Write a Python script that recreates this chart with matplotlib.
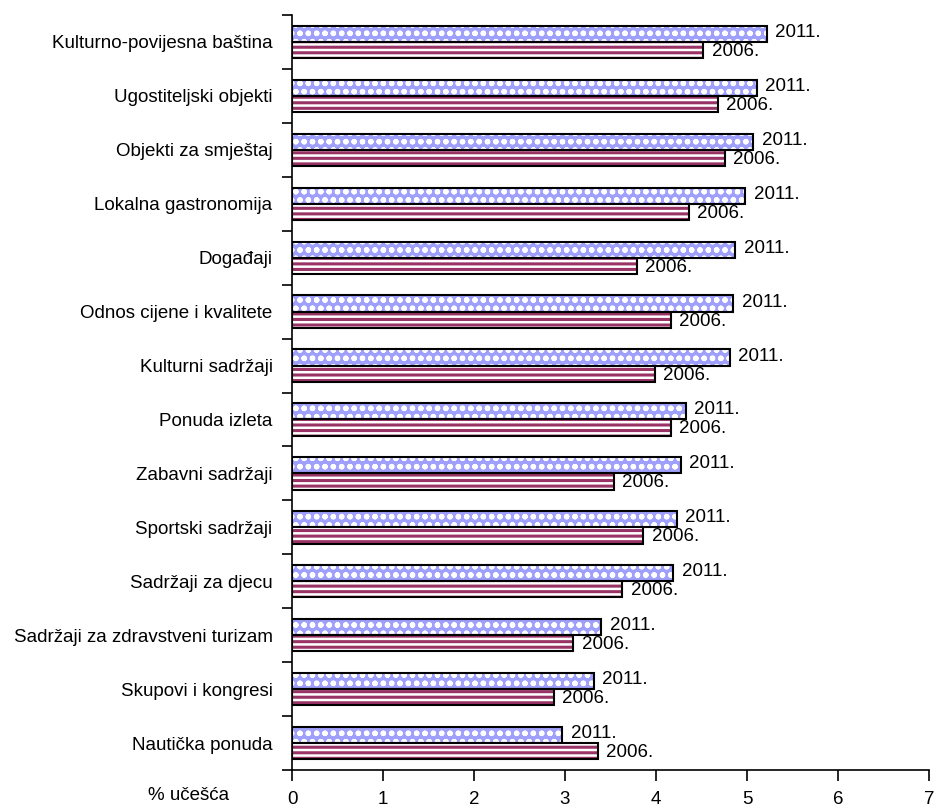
import numpy as np
import matplotlib.pyplot as plt
from matplotlib.ticker import FixedLocator

# categories, top to bottom
categories = [
    "Kulturno-povijesna baština",
    "Ugostiteljski objekti",
    "Objekti za smještaj",
    "Lokalna gastronomija",
    "Događaji",
    "Odnos cijene i kvalitete",
    "Kulturni sadržaji",
    "Ponuda izleta",
    "Zabavni sadržaji",
    "Sportski sadržaji",
    "Sadržaji za djecu",
    "Sadržaji za zdravstveni turizam",
    "Skupovi i kongresi",
    "Nautička ponuda",
]
values_2011 = [5.22, 5.11, 5.07, 4.98, 4.87, 4.85, 4.81, 4.33, 4.27, 4.23, 4.19, 3.40, 3.32, 2.97]
values_2006 = [4.52, 4.68, 4.76, 4.36, 3.79, 4.16, 3.99, 4.16, 3.54, 3.86, 3.63, 3.09, 2.88, 3.36]
series_labels = ["2011.", "2006."]
x_ticks = [0, 1, 2, 3, 4, 5, 6, 7]
x_title = "% učešća"

plt.rcParams['font.family'] = ['Liberation Sans Narrow', 'Liberation Sans', 'DejaVu Sans']
plt.rcParams['hatch.linewidth'] = 1.6

fig = plt.figure(figsize=(9.36, 8.10), dpi=100)
ax = fig.add_axes([292 / 936, 1 - 770 / 810, (929 - 292) / 936, (770 - 15) / 810])

y = np.arange(len(categories))
h = 0.3

# 2011: light blue with white dotted pattern
ax.barh(y - h / 2, values_2011, height=h, color='#9f9ffc', edgecolor='white',
        hatch='oo', linewidth=0)
ax.barh(y - h / 2, values_2011, height=h, fill=False, edgecolor='black', linewidth=1.5)
# 2006: maroon / white stripes
stripes = ax.barh(y + h / 2, values_2006, height=h, color='white', edgecolor='#993366',
                  hatch='---', linewidth=0)
for p in stripes:
    if hasattr(p, 'set_hatch_linewidth'):
        p.set_hatch_linewidth(2.2)
ax.barh(y + h / 2, values_2006, height=h, fill=False, edgecolor='black', linewidth=1.5)

fs = 13.5
for yi, v in zip(y, values_2011):
    ax.annotate(series_labels[0], (v, yi - h / 2), xytext=(6, 1), textcoords='offset points',
                va='center', ha='left', fontsize=fs)
for yi, v in zip(y, values_2006):
    ax.annotate(series_labels[1], (v, yi + h / 2), xytext=(6, -1), textcoords='offset points',
                va='center', ha='left', fontsize=fs)

ax.set_xlim(0, 7)
ax.set_ylim(len(categories) - 0.5, -0.5)
ax.set_xticks(x_ticks)
ax.set_xticklabels([str(t) for t in x_ticks], fontsize=fs)

# ticks on category boundaries, labels centred
ax.yaxis.set_major_locator(FixedLocator(np.arange(len(categories) + 1) - 0.5))
ax.yaxis.set_major_formatter(plt.NullFormatter())
ax.yaxis.set_minor_locator(FixedLocator(y))
ax.set_yticklabels(categories, minor=True, fontsize=fs)
ax.tick_params(axis='y', which='major', length=7, width=1.2, direction='out')
ax.tick_params(axis='y', which='minor', length=0, pad=14)
ax.tick_params(axis='x', length=8, width=1.2, direction='out', pad=7)

for s in ['top', 'right']:
    ax.spines[s].set_visible(False)
for s in ['left', 'bottom']:
    ax.spines[s].set_linewidth(1.2)

fig.text(189 / 936, 1 - 796 / 810, x_title, ha='center', va='center', fontsize=fs)

plt.savefig("out.png", dpi=100)
